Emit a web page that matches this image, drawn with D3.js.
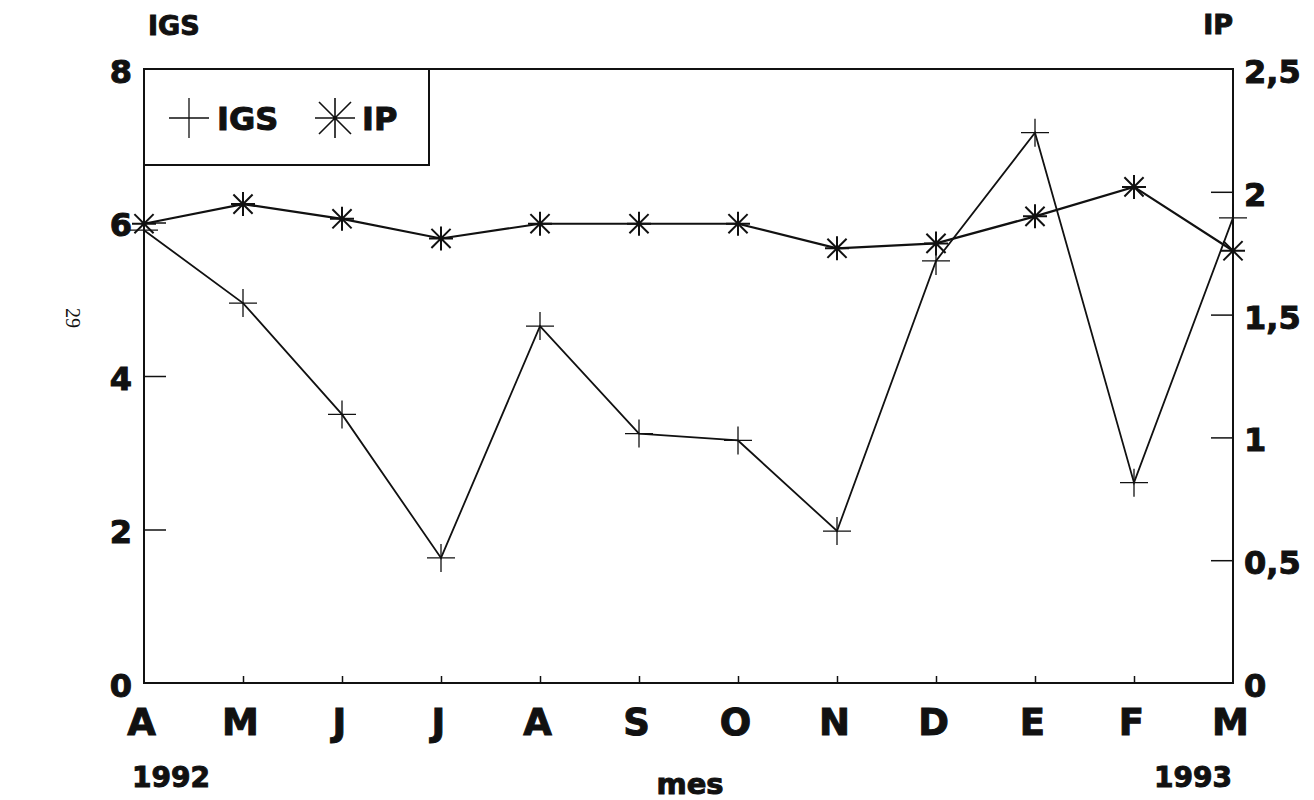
<!DOCTYPE html>
<html>
<head>
<meta charset="utf-8">
<script src="https://cdn.jsdelivr.net/npm/d3@7"></script>
<style>
  body { margin: 0; background: #fff; }
  svg text { font-family: "DejaVu Sans", "Liberation Sans", Arial, sans-serif; font-weight: bold; fill: #111; }
  .thick { stroke: #111; stroke-width: 1px; paint-order: stroke; }
</style>
</head>
<body>
<div id="chart"></div>
<script>
// months, April 1992 .. March 1993
const months = ["A", "M", "J", "J", "A", "S", "O", "N", "D", "E", "F", "M"];
const igs = [5.9, 4.95, 3.5, 1.63, 4.65, 3.25, 3.16, 1.98, 5.5, 7.17, 2.61, 6.06];
const ip  = [1.87, 1.95, 1.89, 1.81, 1.87, 1.87, 1.87, 1.77, 1.79, 1.90, 2.02, 1.76];
const igsTicks = [0, 2, 4, 6, 8];
const ipTicks = [0, 0.5, 1, 1.5, 2, 2.5];

var W = 1314, H = 800;
var plotL = 144, plotR = 1233, plotT = 69, plotB = 683;

var svg = d3.select("#chart").append("svg")
    .attr("width", W)
    .attr("height", H);

var x = d3.scalePoint().domain(d3.range(months.length)).range([plotL, plotR]);
var yL = d3.scaleLinear().domain([0, 8]).range([plotB, plotT]);
var yR = d3.scaleLinear().domain([0, 2.5]).range([plotB, plotT]);

var ink = "#111";

// frame
svg.append("rect")
    .attr("x", plotL).attr("y", plotT)
    .attr("width", plotR - plotL).attr("height", plotB - plotT)
    .attr("fill", "none").attr("stroke", ink).attr("stroke-width", 2);

// left axis (ticks pointing inward)
var gL = svg.append("g")
    .attr("transform", "translate(" + plotL + ",0)")
    .call(d3.axisLeft(yL).tickValues(igsTicks).tickSizeInner(-22).tickSizeOuter(0).tickPadding(12));
gL.select(".domain").remove();
gL.selectAll("line").attr("stroke", ink).attr("stroke-width", 1.5)
    .filter(d => d === 0 || d === 8).remove();
gL.selectAll("text").attr("class", "thick").style("font-size", "32px").attr("dy", "0.42em");

// right axis
var gR = svg.append("g")
    .attr("transform", "translate(" + plotR + ",0)")
    .call(d3.axisRight(yR).tickValues(ipTicks).tickSizeInner(-22).tickSizeOuter(0).tickPadding(11)
        .tickFormat(d => String(d).replace(".", ",")));
gR.select(".domain").remove();
gR.selectAll("line").attr("stroke", ink).attr("stroke-width", 1.5)
    .filter(d => d === 0 || d === 2.5).remove();
gR.selectAll("text").attr("class", "thick").style("font-size", "32px").attr("dy", "0.42em");

// bottom axis: months
var gB = svg.append("g")
    .attr("transform", "translate(0," + plotB + ")")
    .call(d3.axisBottom(x).tickSizeInner(-7).tickSizeOuter(0).tickFormat(i => months[i]));
gB.select(".domain").remove();
gB.selectAll("line").attr("stroke", ink).attr("stroke-width", 1.5)
    .filter((d, i) => i === 0 || i === months.length - 1).remove();
gB.selectAll("text").attr("class", "thick").style("font-size", "37px")
    .attr("y", 52).attr("dy", 0).attr("dx", -3);

// axis titles and year labels
svg.append("text").attr("class", "thick").attr("x", 148).attr("y", 35).style("font-size", "27px").text("IGS");
svg.append("text").attr("class", "thick").attr("x", plotR).attr("y", 34).attr("text-anchor", "end").style("font-size", "27px").text("IP");
svg.append("text").attr("class", "thick").attr("x", 132).attr("y", 787).style("font-size", "28px").text("1992");
svg.append("text").attr("class", "thick").attr("x", 1232).attr("y", 787).attr("text-anchor", "end").style("font-size", "28px").text("1993");
svg.append("text").attr("class", "thick").attr("x", 690).attr("y", 794).attr("text-anchor", "middle").style("font-size", "29px").text("mes");

// page number, rotated
svg.append("text")
    .attr("transform", "translate(66,318) rotate(90)")
    .attr("text-anchor", "middle")
    .style("font-family", "'Liberation Serif', serif").style("font-weight", "normal").style("font-size", "20px")
    .text("29");

// marker paths
function plusPath(cx, cy, s) {
  return "M" + (cx - s) + "," + cy + "H" + (cx + s) + "M" + cx + "," + (cy - s) + "V" + (cy + s);
}
function starPath(cx, cy, s) {
  var d = s * 0.8;
  return plusPath(cx, cy, s) +
    "M" + (cx - d) + "," + (cy - d) + "L" + (cx + d) + "," + (cy + d) +
    "M" + (cx - d) + "," + (cy + d) + "L" + (cx + d) + "," + (cy - d);
}

// IGS line
var lineL = d3.line().x((d, i) => x(i)).y(d => yL(d));
svg.append("path").datum(igs)
    .attr("d", lineL).attr("fill", "none").attr("stroke", ink).attr("stroke-width", 1.8);
svg.append("g").selectAll("path").data(igs).join("path")
    .attr("d", (d, i) => plusPath(x(i), yL(d), 14))
    .attr("stroke", ink).attr("stroke-width", 1.3).attr("fill", "none");

// IP line
var lineR = d3.line().x((d, i) => x(i)).y(d => yR(d));
svg.append("path").datum(ip)
    .attr("d", lineR).attr("fill", "none").attr("stroke", ink).attr("stroke-width", 2.2);
svg.append("g").selectAll("path").data(ip).join("path")
    .attr("d", (d, i) => starPath(x(i), yR(d), 12))
    .attr("stroke", ink).attr("stroke-width", 2).attr("fill", "none");

// legend
var lg = svg.append("g");
lg.append("rect").attr("x", plotL).attr("y", plotT).attr("width", 429 - plotL).attr("height", 165 - plotT)
    .attr("fill", "#fff").attr("stroke", ink).attr("stroke-width", 2);
lg.append("path").attr("d", plusPath(189, 118, 20)).attr("stroke", ink).attr("stroke-width", 1.3);
lg.append("text").attr("class", "thick").attr("x", 217).attr("y", 130).style("font-size", "32px").text("IGS");
lg.append("path").attr("d", starPath(335, 118, 20)).attr("stroke", ink).attr("stroke-width", 1.6);
lg.append("text").attr("class", "thick").attr("x", 362).attr("y", 130).style("font-size", "32px").text("IP");
</script>
</body>
</html>
